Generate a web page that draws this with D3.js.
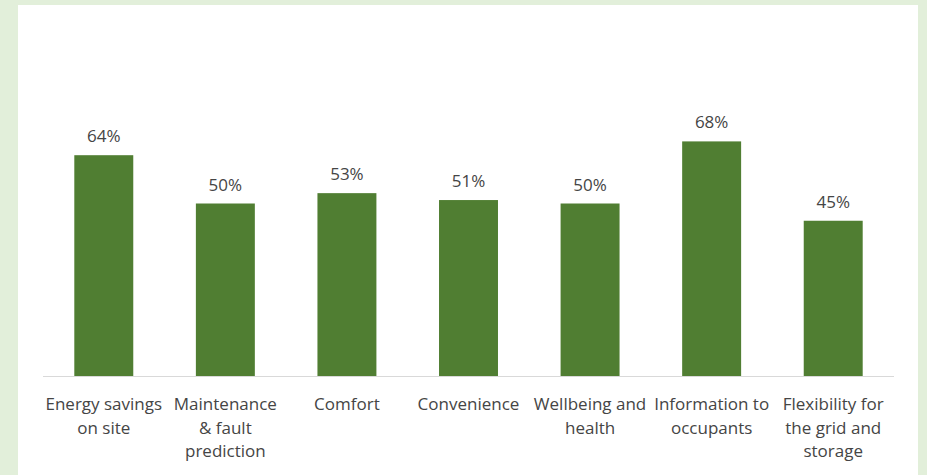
<!DOCTYPE html>
<html><head><meta charset="utf-8">
<script src="https://cdn.jsdelivr.net/npm/d3@7"></script>
<style>html,body{margin:0;padding:0;background:#e2efda;}svg{display:block;}</style>
</head><body>
<svg id="c" width="927" height="475"></svg>
<script>
const categories = [
  ["Energy savings", "on site"],
  ["Maintenance", "& fault", "prediction"],
  ["Comfort"],
  ["Convenience"],
  ["Wellbeing and", "health"],
  ["Information to", "occupants"],
  ["Flexibility for", "the grid and", "storage"]
];
const values = [0.64, 0.50, 0.53, 0.51, 0.50, 0.68, 0.45];
const labels = ["64%", "50%", "53%", "51%", "50%", "68%", "45%"];

const svg = d3.select("#c");
svg.append("rect").attr("x",0).attr("y",0).attr("width",927).attr("height",475).attr("fill","#e2efda");
svg.append("rect").attr("x",18).attr("y",5).attr("width",900).attr("height",470).attr("fill","#ffffff");

const x = d3.scaleBand().domain(d3.range(values.length)).range([43, 894]).padding(0);
const y = d3.scaleLinear().domain([0, 0.8]).range([376, 100]);
const bw = x.bandwidth() * 0.485;
const font = "'Open Sans', 'Liberation Sans', sans-serif";

svg.append("g").selectAll("rect").data(values).join("rect")
  .attr("x", (d,i) => x(i) + (x.bandwidth()-bw)/2)
  .attr("y", d => y(d))
  .attr("width", bw)
  .attr("height", d => y(0) - y(d))
  .attr("fill", "#507e32");

svg.append("line").attr("x1", 43).attr("x2", 894).attr("y1", 376.5).attr("y2", 376.5)
  .attr("stroke", "#d9d9d9").attr("stroke-width", 1);

svg.append("g").selectAll("text").data(values).join("text")
  .attr("x", (d,i) => x(i) + x.bandwidth()/2)
  .attr("y", d => y(d) - 13)
  .attr("text-anchor", "middle")
  .attr("font-family", font).attr("font-size", 17)
  .attr("fill", "#454545")
  .text((d,i) => labels[i]);

const cat = svg.append("g").selectAll("text").data(categories).join("text")
  .attr("x", (d,i) => x(i) + x.bandwidth()/2)
  .attr("y", 410)
  .attr("text-anchor", "middle")
  .attr("font-family", font).attr("font-size", 17)
  .attr("fill", "#454545");
cat.each(function(lines, i){
  d3.select(this).selectAll("tspan").data(lines).join("tspan")
    .attr("x", x(i) + x.bandwidth()/2)
    .attr("y", (l,j) => 410 + j*23.5)
    .text(l => l);
});
</script>
</body></html>
